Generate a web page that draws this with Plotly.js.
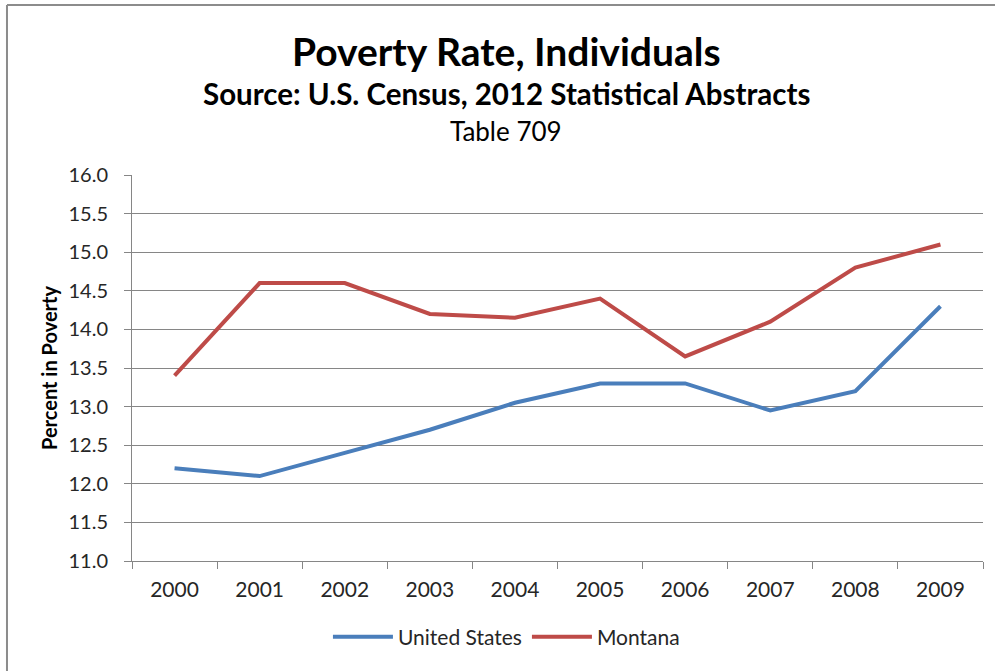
<!DOCTYPE html>
<html>
<head>
<meta charset="utf-8">
<script src="https://cdn.plot.ly/plotly-3.0.1.min.js"></script>
<style>html,body{margin:0;padding:0;background:#fff;}#chart{width:995px;height:671px;}</style>
</head>
<body>
<div id="chart"></div>
<script>
const years = ["2000","2001","2002","2003","2004","2005","2006","2007","2008","2009"];
const unitedStates = [12.2, 12.1, 12.4, 12.7, 13.05, 13.3, 13.3, 12.95, 13.2, 14.3];
const montana = [13.4, 14.6, 14.6, 14.2, 14.15, 14.4, 13.65, 14.1, 14.8, 15.1];
const yTicks = [11.0, 11.5, 12.0, 12.5, 13.0, 13.5, 14.0, 14.5, 15.0, 15.5, 16.0];

const FONT = "Lato, 'Open Sans', sans-serif";
const traces = [
  {x: years, y: unitedStates, name: "United States", type: "scatter", mode: "lines",
   line: {color: "#4A7EBB", width: 4}},
  {x: years, y: montana, name: "Montana", type: "scatter", mode: "lines",
   line: {color: "#BE4B48", width: 4}}
];
const layout = {
  width: 995, height: 671,
  margin: {l: 132, r: 12, t: 175, b: 110},
  paper_bgcolor: "#fff", plot_bgcolor: "#fff",
  font: {family: FONT, color: "#262626", size: 18},
  showlegend: true,
  legend: {orientation: "h", x: 0.44, xanchor: "center", y: -0.197, yanchor: "middle",
           font: {size: 21, color: "#262626"}, itemwidth: 60, tracegroupgap: 0},
  xaxis: {type: "category", range: [-0.5, 9.5], tickson: "boundaries", ticks: "outside", ticklen: 7,
          tickcolor: "#868686", showline: true, linecolor: "#868686", linewidth: 1,
          showgrid: false, tickfont: {size: 21}, ticklabelstandoff: 10, fixedrange: true},
  yaxis: {range: [11.0, 16.0], tickvals: yTicks, ticktext: yTicks.map(v => v.toFixed(1)),
          ticks: "outside", ticklen: 7, tickcolor: "#868686", showline: true,
          linecolor: "#868686", linewidth: 1, showgrid: true, gridcolor: "#868686",
          gridwidth: 1, zeroline: false, tickfont: {size: 20}, ticklabelstandoff: 12,
          title: {text: "<b>Percent in Poverty</b>", font: {size: 20, color: "#000"}, standoff: 5}},
  annotations: [
    {text: "<b>Poverty Rate, Individuals</b>", xref: "paper", yref: "paper", x: 0.44, y: 1.32,
     xanchor: "center", yanchor: "middle", showarrow: false, font: {size: 39, color: "#000", family: FONT}},
    {text: "<b>Source: U.S. Census, 2012 Statistical Abstracts</b>", xref: "paper", yref: "paper", x: 0.44, y: 1.21,
     xanchor: "center", yanchor: "middle", showarrow: false, font: {size: 29.5, color: "#000", family: FONT}},
    {text: "Table 709", xref: "paper", yref: "paper", x: 0.44, y: 1.114,
     xanchor: "center", yanchor: "middle", showarrow: false, font: {size: 26, color: "#000", family: FONT}}
  ],
  shapes: [
    {type: "line", xref: "paper", yref: "paper", x0: -0.1469, x1: -0.1469, y0: -0.6, y1: 1.4404,
     line: {color: "#8c8c8c", width: 2}, layer: "below"},
    {type: "line", xref: "paper", yref: "paper", x0: -0.1469, x1: 1.3, y0: 1.4404, y1: 1.4404,
     line: {color: "#8c8c8c", width: 2}, layer: "below"}
  ]
};
Plotly.newPlot("chart", traces, layout, {displayModeBar: false, staticPlot: true});
</script>
</body>
</html>
